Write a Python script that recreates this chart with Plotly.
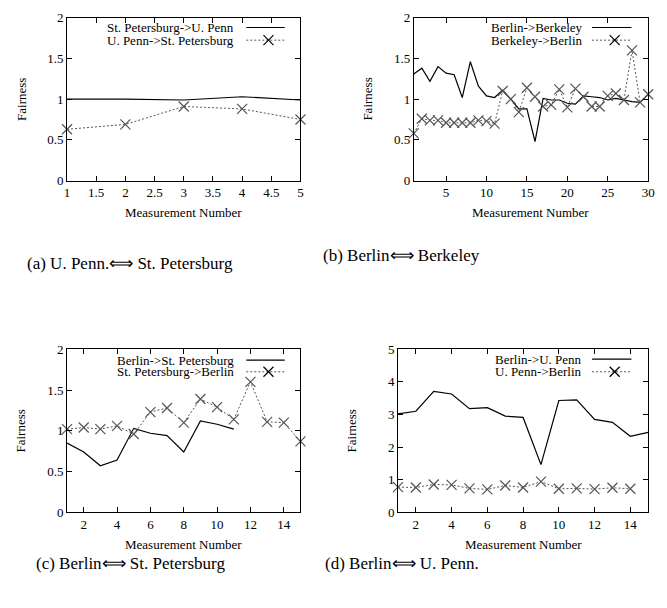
import plotly.graph_objects as go

# ---------------- data ----------------
a_x = [1, 2, 3, 4, 5]
a_spb_upenn = [1.0, 1.0, 0.99, 1.03, 0.99]
a_upenn_spb = [0.63, 0.69, 0.91, 0.88, 0.75]

b_x = list(range(1, 31))
b_berlin_berkeley = [1.31, 1.38, 1.22, 1.40, 1.32, 1.30, 1.02, 1.46, 1.16, 1.04,
                     1.02, 1.11, 1.00, 0.88, 0.88, 0.48, 1.01, 0.99, 0.99, 0.95,
                     0.94, 1.04, 1.03, 1.02, 0.99, 1.01, 0.99, 0.97, 0.96, 1.06]
b_berkeley_berlin = [0.58, 0.76, 0.74, 0.74, 0.71, 0.71, 0.71, 0.71, 0.74, 0.73,
                     0.70, 1.10, 1.00, 0.84, 1.14, 1.03, 0.91, 0.93, 1.12, 0.90,
                     1.13, 1.03, 0.91, 0.91, 1.04, 1.07, 0.99, 1.60, 0.96, 1.06]

c_x_solid = list(range(1, 12))
c_berlin_spb = [0.85, 0.74, 0.57, 0.64, 1.03, 0.97, 0.94, 0.74, 1.12, 1.08, 1.02]
c_x_dot = list(range(1, 16))
c_spb_berlin = [1.02, 1.04, 1.02, 1.06, 0.96, 1.23, 1.28, 1.10, 1.39, 1.29,
                1.14, 1.60, 1.11, 1.10, 0.87]

d_x_solid = list(range(1, 16))
d_berlin_upenn = [3.02, 3.10, 3.71, 3.63, 3.18, 3.21, 2.95, 2.91, 1.46, 3.43,
                  3.45, 2.85, 2.76, 2.33, 2.45]
d_x_dot = list(range(1, 15))
d_upenn_berlin = [0.77, 0.76, 0.85, 0.84, 0.73, 0.70, 0.82, 0.76, 0.94, 0.72,
                  0.73, 0.71, 0.75, 0.72]

captions = ["(a) U. Penn.\u27fa St. Petersburg", "(b) Berlin\u27fa Berkeley",
            "(c) Berlin\u27fa St. Petersburg", "(d) Berlin\u27fa U. Penn."]
legend_names = [("St. Petersburg->U. Penn", "U. Penn->St. Petersburg"),
                ("Berlin->Berkeley", "Berkeley->Berlin"),
                ("Berlin->St. Petersburg", "St. Petersburg->Berlin"),
                ("Berlin->U. Penn", "U. Penn->Berlin")]

# ---------------- figure ----------------
W, H = 667, 608
FONT = "Liberation Serif"
fig = go.Figure()

solid = dict(color="black", width=1.2)
dotted = dict(color="#555555", width=1, dash="2px,2px")
mk = dict(symbol="x-thin-open", size=10, line=dict(color="black", width=1.2))

panels = [
    (a_x, a_spb_upenn, a_x, a_upenn_spb),
    (b_x, b_berlin_berkeley, b_x, b_berkeley_berlin),
    (c_x_solid, c_berlin_spb, c_x_dot, c_spb_berlin),
    (d_x_solid, d_berlin_upenn, d_x_dot, d_upenn_berlin),
]
for i, (xs, ys, xd, yd) in enumerate(panels):
    sfx = "" if i == 0 else str(i + 1)
    fig.add_trace(go.Scatter(x=xs, y=ys, mode="lines", line=solid, cliponaxis=False,
                             name=legend_names[i][0], xaxis="x" + sfx, yaxis="y" + sfx,
                             showlegend=False))
    fig.add_trace(go.Scatter(x=xd, y=yd, mode="lines+markers", line=dotted, marker=mk,
                             cliponaxis=False, name=legend_names[i][1],
                             xaxis="x" + sfx, yaxis="y" + sfx, showlegend=False))

# pixel boxes of the plot areas (left, right, top, bottom)
boxes = [(65, 302, 11, 178), (417, 655, 11, 178), (65, 302, 351, 518), (401, 655, 351, 518)]
xranges = [[1, 5], [1, 30], [1, 15], [1, 15]]
yranges = [[0, 2], [0, 2], [0, 2], [0, 5]]
xdt = [0.5, 5, 2, 2]
xt0 = [1, 5, 2, 2]
ydt = [0.5, 0.5, 0.5, 1]

axis_common = dict(showline=True, linecolor="black", linewidth=1, mirror="allticks",
                   ticks="inside", ticklen=5, tickcolor="black", showgrid=False,
                   zeroline=False, tickfont=dict(family=FONT, size=13, color="black"))

layout = {}
annotations = []
shapes = []
for i, (l, r, t, b) in enumerate(boxes):
    sfx = "" if i == 0 else str(i + 1)
    layout["xaxis" + sfx] = dict(axis_common, domain=[l / W, r / W], range=xranges[i],
                                 anchor="y" + sfx, tick0=xt0[i], dtick=xdt[i])
    layout["yaxis" + sfx] = dict(axis_common, domain=[1 - b / H, 1 - t / H], range=yranges[i],
                                 anchor="x" + sfx, tick0=0, dtick=ydt[i])
    xr = "x" + sfx + " domain"
    yr = "y" + sfx + " domain"
    # axis titles
    annotations.append(dict(text="Measurement Number", xref="paper", yref="paper",
                            x=(l + r) / 2 / W, y=1 - (b + 33) / H, showarrow=False,
                            xanchor="center", yanchor="middle",
                            font=dict(family=FONT, size=13, color="black")))
    annotations.append(dict(text="Fairness", xref="paper", yref="paper",
                            x=(l - 47) / W, y=1 - (t + b) / 2 / H, textangle=-90,
                            xanchor="center", yanchor="middle",
                            showarrow=False, font=dict(family=FONT, size=13, color="black")))
    # legend (text right, sample on right like gnuplot)
    w = r - l
    h = b - t
    txt_r = [237, 591, 237, 590][i]
    ln0 = [247, 598, 247, 598][i]
    ln1 = [286, 638, 286, 638][i]
    rows = [[21, 34], [21, 34], [362, 374], [361, 374]][i]
    for k in range(2):
        yy = (b - rows[k]) / h
        annotations.append(dict(text=legend_names[i][k], xref=xr, yref=yr,
                                x=(txt_r - l) / w, y=yy, xanchor="right", yanchor="middle",
                                showarrow=False, font=dict(family=FONT, size=13, color="black")))
        shapes.append(dict(type="line", xref=xr, yref=yr, x0=(ln0 - l) / w, x1=(ln1 - l) / w,
                           y0=yy, y1=yy, line=solid if k == 0 else dotted))
        if k == 1:
            xm = ((ln0 + ln1) / 2 + 3 - l) / w
            for s in (1, -1):
                shapes.append(dict(type="line", xref=xr, yref=yr, xsizemode="pixel",
                                   ysizemode="pixel", xanchor=xm, yanchor=yy,
                                   x0=-5, x1=5, y0=-5 * s, y1=5 * s,
                                   line=dict(color="black", width=1.2)))

cap_pos = [(129, 263), (405, 255), (129, 571), (405, 571)]
for i, (cx, cy) in enumerate(cap_pos):
    annotations.append(dict(text=captions[i], xref="paper", yref="paper", x=cx / W, y=1 - cy / H,
                            xanchor="center", yanchor="middle",
                            showarrow=False, font=dict(family=FONT, size=17, color="black")))

fig.update_layout(width=W, height=H, margin=dict(l=0, r=0, t=0, b=0),
                  plot_bgcolor="white", paper_bgcolor="white", showlegend=False,
                  annotations=annotations, shapes=shapes, **layout)
fig.write_html("out.html", config={"displayModeBar": False},
               post_script="document.body.style.margin='0';document.body.style.overflow='hidden';")
